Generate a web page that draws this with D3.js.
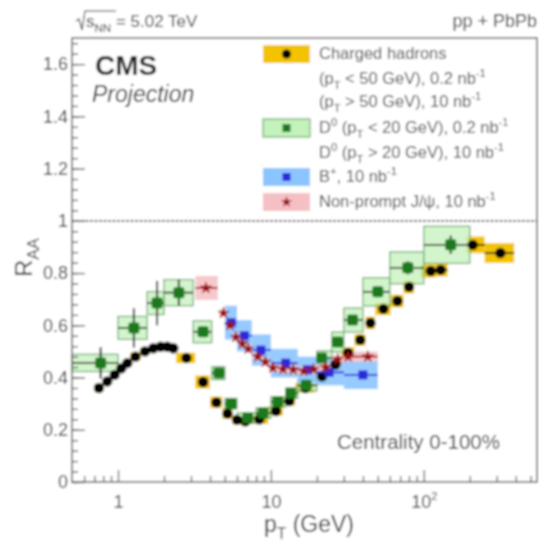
<!DOCTYPE html>
<html>
<head>
<meta charset="utf-8">
<script src="https://cdn.jsdelivr.net/npm/d3@7"></script>
<style>
  body { margin: 0; background: #fff; }
  svg { font-family: "Liberation Sans", Arial, sans-serif; }
  .axis path { display: none; }
  .axis line { stroke: #555; stroke-width: 1.3; }
  .axis text { fill: #333; font-size: 18px; font-family: "Liberation Sans", Arial, sans-serif; }
</style>
</head>
<body>
<svg width="539" height="541"></svg>
<script>
// charged hadrons
const chPt = [0.75, 0.85, 0.95, 1.05, 1.15, 1.3, 1.5, 1.7, 1.9, 2.1, 2.3, 2.8, 3.6, 4.4, 5.2, 6.0, 6.8, 8.4, 10.8, 13.2, 16.8, 21.6, 26.4, 32, 38.4, 44.8, 54.4, 67.2, 80, 111, 129, 209, 317];
const chR = [0.36, 0.385, 0.41, 0.435, 0.455, 0.48, 0.5, 0.512, 0.518, 0.518, 0.512, 0.475, 0.383, 0.305, 0.262, 0.238, 0.232, 0.24, 0.272, 0.31, 0.36, 0.405, 0.45, 0.494, 0.544, 0.609, 0.663, 0.693, 0.747, 0.808, 0.812, 0.908, 0.877];
const chLo = [0.7, 0.8, 0.9, 1.0, 1.1, 1.2, 1.4, 1.6, 1.8, 2.0, 2.2, 2.4, 3.2, 4.0, 4.8, 5.6, 6.4, 7.2, 9.6, 12, 14.4, 19.2, 24, 28.8, 35.2, 41.6, 48, 60.8, 73.6, 95, 120, 190, 250];
const chHi = [0.8, 0.9, 1.0, 1.1, 1.2, 1.4, 1.6, 1.8, 2.0, 2.2, 2.4, 3.2, 4.0, 4.8, 5.6, 6.4, 7.2, 9.6, 12, 14.4, 19.2, 24, 28.8, 35.2, 41.6, 48, 60.8, 73.6, 86.4, 120, 143, 250, 390];
const chSys = [0.016, 0.016, 0.016, 0.016, 0.016, 0.016, 0.016, 0.016, 0.016, 0.016, 0.016, 0.02, 0.025, 0.022, 0.02, 0.018, 0.018, 0.018, 0.018, 0.018, 0.018, 0.02, 0.02, 0.022, 0.022, 0.024, 0.024, 0.024, 0.025, 0.025, 0.025, 0.032, 0.038];

// D0
const d0Pt = [0.77, 1.27, 1.8, 2.5, 3.6, 4.57, 5.5, 7.05, 8.9, 11.1, 13.5, 17, 21.5, 27.3, 34.2, 50, 78.6, 150];
const d0R = [0.456, 0.59, 0.685, 0.725, 0.575, 0.417, 0.30, 0.245, 0.264, 0.307, 0.34, 0.37, 0.475, 0.536, 0.62, 0.728, 0.82, 0.908];
const d0Lo = [0.5, 1.0, 1.55, 2.0, 3.1, 4.1, 5, 6, 8, 10, 12.5, 15, 20, 25, 30, 40, 60, 100];
const d0Hi = [1.0, 1.55, 2.0, 3.1, 4.1, 5, 6, 8, 10, 12.5, 15, 20, 25, 30, 40, 60, 100, 200];
const d0Sys = [0.033, 0.044, 0.044, 0.05, 0.042, 0.025, 0.02, 0.02, 0.02, 0.02, 0.02, 0.022, 0.027, 0.038, 0.046, 0.054, 0.061, 0.071];
const d0Stat = [0.06, 0.075, 0.085, 0.05, 0.02, 0.012, 0.01, 0.01, 0.01, 0.01, 0.01, 0.01, 0.012, 0.012, 0.015, 0.02, 0.025, 0.035];

// B+
const bPt = [5.5, 6.7, 8.6, 12.5, 17.4, 24, 40];
const bR = [0.61, 0.56, 0.505, 0.455, 0.43, 0.42, 0.41];
const bLo = [5, 6, 7.5, 10, 15, 20, 30];
const bHi = [6, 7.5, 10, 15, 20, 30, 50];
const bSys = [0.065, 0.06, 0.06, 0.055, 0.05, 0.05, 0.054];

// non-prompt J/psi
const jPt = [3.76, 4.9, 5.4, 5.9, 6.5, 7.1, 8.2, 9.2, 10.3, 12, 14, 16.4, 19, 22.8, 27.4, 32, 43];
const jR = [0.743, 0.647, 0.60, 0.555, 0.53, 0.51, 0.48, 0.46, 0.437, 0.432, 0.43, 0.425, 0.432, 0.44, 0.47, 0.48, 0.48];
const jLo = [3.2, 4.6, 5.15, 5.65, 6.2, 6.8, 7.6, 8.7, 9.7, 11, 13, 15, 17.7, 20.5, 25, 30, 30];
const jHi = [4.5, 5.15, 5.65, 6.2, 6.8, 7.6, 8.7, 9.7, 11, 13, 15, 17.7, 20.5, 25, 30, 35, 50];
const jSys = [0.046, 0.016, 0.016, 0.016, 0.016, 0.016, 0.016, 0.016, 0.016, 0.016, 0.016, 0.016, 0.016, 0.016, 0.016, 0.016, 0.02];

const yMajor = [0, 0.2, 0.4, 0.6, 0.8, 1, 1.2, 1.4, 1.6];
const xMajor = [1, 10, 100];
const xMinor = [0.6, 0.7, 0.8, 0.9, 2, 3, 4, 5, 6, 7, 8, 9, 20, 30, 40, 50, 60, 70, 80, 90, 200, 300, 400, 500];

var svg = d3.select("svg");
svg.append("defs").append("filter").attr("id", "soft")
  .attr("x", "-5%").attr("y", "-5%").attr("width", "110%").attr("height", "110%")
  .append("feGaussianBlur").attr("stdDeviation", 0.8);
const root = svg.append("g").attr("filter", "url(#soft)");
root.append("rect").attr("width", 539).attr("height", 541).attr("fill", "#fff");

// 座標
var x = d3.scaleLog().domain([0.5, 550]).range([72, 537]);
var y = d3.scaleLinear().domain([0, 1.7]).range([482, 38]);

function zip(pt, r, lo, hi, sys) {
  return pt.map((p, i) => ({ p: p, r: r[i], lo: lo[i], hi: hi[i], sys: sys[i] }));
}
const chData = zip(chPt, chR, chLo, chHi, chSys);
const d0Data = zip(d0Pt, d0R, d0Lo, d0Hi, d0Sys).map((d, i) => Object.assign(d, { stat: d0Stat[i] }));
const bData = zip(bPt, bR, bLo, bHi, bSys);
const jData = zip(jPt, jR, jLo, jHi, jSys);

// boxes
function boxes(data, fill, stroke, op) {
  root.append("g").selectAll("rect").data(data).enter().append("rect")
    .attr("x", d => x(d.lo))
    .attr("y", d => y(d.r + d.sys))
    .attr("width", d => x(d.hi) - x(d.lo))
    .attr("height", d => y(d.r - d.sys) - y(d.r + d.sys))
    .attr("fill", fill)
    .attr("fill-opacity", op)
    .attr("stroke", stroke)
    .attr("stroke-width", stroke === "none" ? 0 : 1.2);
}
function hbars(data, color) {
  root.append("g").selectAll("line").data(data).enter().append("line")
    .attr("x1", d => x(d.lo)).attr("x2", d => x(d.hi))
    .attr("y1", d => y(d.r)).attr("y2", d => y(d.r))
    .attr("stroke", color).attr("stroke-width", 1.8);
}

boxes(chData, "#f3c300", "none", 1);
boxes(d0Data, "#c4f2bc", "#6aa86a", 0.75);
boxes(bData, "#8cc4ff", "none", 0.9);
boxes(jData, "#f5c0c4", "none", 0.85);

hbars(chData.slice(-3), "#222");
hbars(d0Data, "#333");

// D0 vertical stat bars
root.append("g").selectAll("line").data(d0Data).enter().append("line")
  .attr("x1", d => x(d.p)).attr("x2", d => x(d.p))
  .attr("y1", d => y(d.r + d.stat)).attr("y2", d => y(d.r - d.stat))
  .attr("stroke", "#222").attr("stroke-width", 2);

// markers
root.append("g").selectAll("circle").data(chData).enter().append("circle")
  .attr("cx", d => x(d.p)).attr("cy", d => y(d.r)).attr("r", 5.2).attr("fill", "#000");

root.append("g").selectAll("rect").data(d0Data).enter().append("rect")
  .attr("x", d => x(d.p) - 5.5).attr("y", d => y(d.r) - 5.5)
  .attr("width", 11).attr("height", 11).attr("rx", 2).attr("fill", "#1b7a1b");

hbars(bData, "#2a2ad8");
root.append("g").selectAll("rect").data(bData).enter().append("rect")
  .attr("x", d => x(d.p) - 4.5).attr("y", d => y(d.r) - 4.5)
  .attr("width", 9).attr("height", 9).attr("fill", "#2a2ad8");

hbars([jData[0], jData[jData.length - 1]], "#b01818");
var star = d3.symbol().type(d3.symbolStar).size(52);
root.append("g").selectAll("path").data(jData).enter().append("path")
  .attr("d", star)
  .attr("transform", d => "translate(" + x(d.p) + "," + y(d.r) + ")")
  .attr("fill", "#9a1010");

// 虛線 R=1
root.append("line")
  .attr("x1", 72).attr("x2", 537).attr("y1", y(1)).attr("y2", y(1))
  .attr("stroke", "#555").attr("stroke-width", 1.8).attr("stroke-dasharray", "3,1.5");

// frame
root.append("rect").attr("x", 72).attr("y", 38).attr("width", 465).attr("height", 444)
  .attr("fill", "none").attr("stroke", "#555").attr("stroke-width", 1.4);

// axes (ticks inside)
root.append("g").attr("class", "axis").attr("transform", "translate(72,0)")
  .call(d3.axisLeft(y).tickValues(d3.range(0, 1.69, 0.04)).tickSize(-6).tickFormat(""));
root.append("g").attr("class", "axis").attr("transform", "translate(72,0)")
  .call(d3.axisLeft(y).tickValues(yMajor).tickSize(-13).tickPadding(4).tickFormat(d3.format("~g")));
root.append("g").attr("class", "axis").attr("transform", "translate(0,482)")
  .call(d3.axisBottom(x).tickValues(xMinor).tickSize(-6).tickFormat(""));
const xa = root.append("g").attr("class", "axis").attr("transform", "translate(0,482)")
  .call(d3.axisBottom(x).tickValues(xMajor).tickSize(-12).tickFormat(""));
xa.selectAll(".tick").append("text")
  .attr("y", 26).attr("text-anchor", "middle").attr("fill", "#333")
  .each(function (d) {
    const t = d3.select(this);
    if (d === 100) {
      t.append("tspan").text("10");
      t.append("tspan").attr("dy", -8).attr("font-size", 11).text("2");
    } else {
      t.text(d);
    }
  });

// rich text helper: parts = [[str, kind]]
function rich(sel, parts, size) {
  let shift = 0;
  parts.forEach(([s, k]) => {
    const want = k === "sup" ? -0.45 * size : k === "sub" ? 0.3 * size : 0;
    sel.append("tspan")
      .attr("dy", want - shift)
      .attr("font-size", k ? size * 0.68 : size)
      .text(s);
    shift = want;
  });
}

// axis titles
rich(root.append("text").attr("transform", "translate(32,238) rotate(-90)")
  .attr("text-anchor", "end").attr("fill", "#333"), [["R", ""], ["AA", "sub"]], 24);
rich(root.append("text").attr("x", 354).attr("y", 532)
  .attr("text-anchor", "end").attr("fill", "#333"), [["p", ""], ["T", "sub"], [" (GeV)", ""]], 23);

// top labels
const sq = root.append("text").attr("x", 86).attr("y", 27).attr("fill", "#333");
rich(sq, [["s", ""], ["NN", "sub"], [" = 5.02 TeV", ""]], 17);
root.append("path").attr("d", "M76,21 L79,19 L82,30 L85,11 L116,11")
  .attr("fill", "none").attr("stroke", "#444").attr("stroke-width", 1.2);
root.append("text").attr("x", 537).attr("y", 27).attr("text-anchor", "end")
  .attr("fill", "#333").attr("font-size", 18).text("pp + PbPb");

root.append("text").attr("x", 95).attr("y", 75).attr("font-size", 28).attr("font-weight", "bold")
  .attr("fill", "#222").text("CMS");
root.append("text").attr("x", 92).attr("y", 102).attr("font-size", 23).attr("font-style", "italic")
  .attr("fill", "#333").text("Projection");

root.append("text").attr("x", 337).attr("y", 449).attr("font-size", 20.5)
  .attr("fill", "#333").text("Centrality 0-100%");

// legend
const lg = root.append("g");
const lx = 263, lw = 47, lh = 18, tx = 319;
function legBox(cy, fill, stroke) {
  lg.append("rect").attr("x", lx).attr("y", cy - lh / 2).attr("width", lw).attr("height", lh)
    .attr("fill", fill).attr("stroke", stroke).attr("stroke-width", stroke === "none" ? 0 : 1.2);
}
legBox(54, "#f3c300", "none");
lg.append("circle").attr("cx", lx + lw / 2).attr("cy", 54).attr("r", 4.5).attr("fill", "#000");
legBox(128, "#c4f2bc", "#6aa86a");
lg.append("rect").attr("x", lx + lw / 2 - 4).attr("y", 124).attr("width", 8).attr("height", 8).attr("fill", "#1b7a1b");
legBox(177, "#8cc4ff", "none");
lg.append("rect").attr("x", lx + lw / 2 - 4).attr("y", 173).attr("width", 8).attr("height", 8).attr("fill", "#2a2ad8");
legBox(202, "#f5c0c4", "none");
lg.append("path").attr("d", d3.symbol().type(d3.symbolStar).size(40))
  .attr("transform", "translate(" + (lx + lw / 2) + ",202)").attr("fill", "#9a1010");

const legLines = [
  [59, [["Charged hadrons", ""]]],
  [84, [["(p", ""], ["T", "sub"], [" < 50 GeV), 0.2 nb", ""], ["-1", "sup"]]],
  [107, [["(p", ""], ["T", "sub"], [" > 50 GeV), 10 nb", ""], ["-1", "sup"]]],
  [133, [["D", ""], ["0", "sup"], [" (p", ""], ["T", "sub"], [" < 20 GeV), 0.2 nb", ""], ["-1", "sup"]]],
  [158, [["D", ""], ["0", "sup"], [" (p", ""], ["T", "sub"], [" > 20 GeV), 10 nb", ""], ["-1", "sup"]]],
  [182, [["B", ""], ["+", "sup"], [", 10 nb", ""], ["-1", "sup"]]],
  [207, [["Non-prompt J/ψ, 10 nb", ""], ["-1", "sup"]]]
];
legLines.forEach(([yy, parts]) => {
  rich(lg.append("text").attr("x", tx).attr("y", yy).attr("fill", "#444"), parts, 16.5);
});
</script>
</body>
</html>
